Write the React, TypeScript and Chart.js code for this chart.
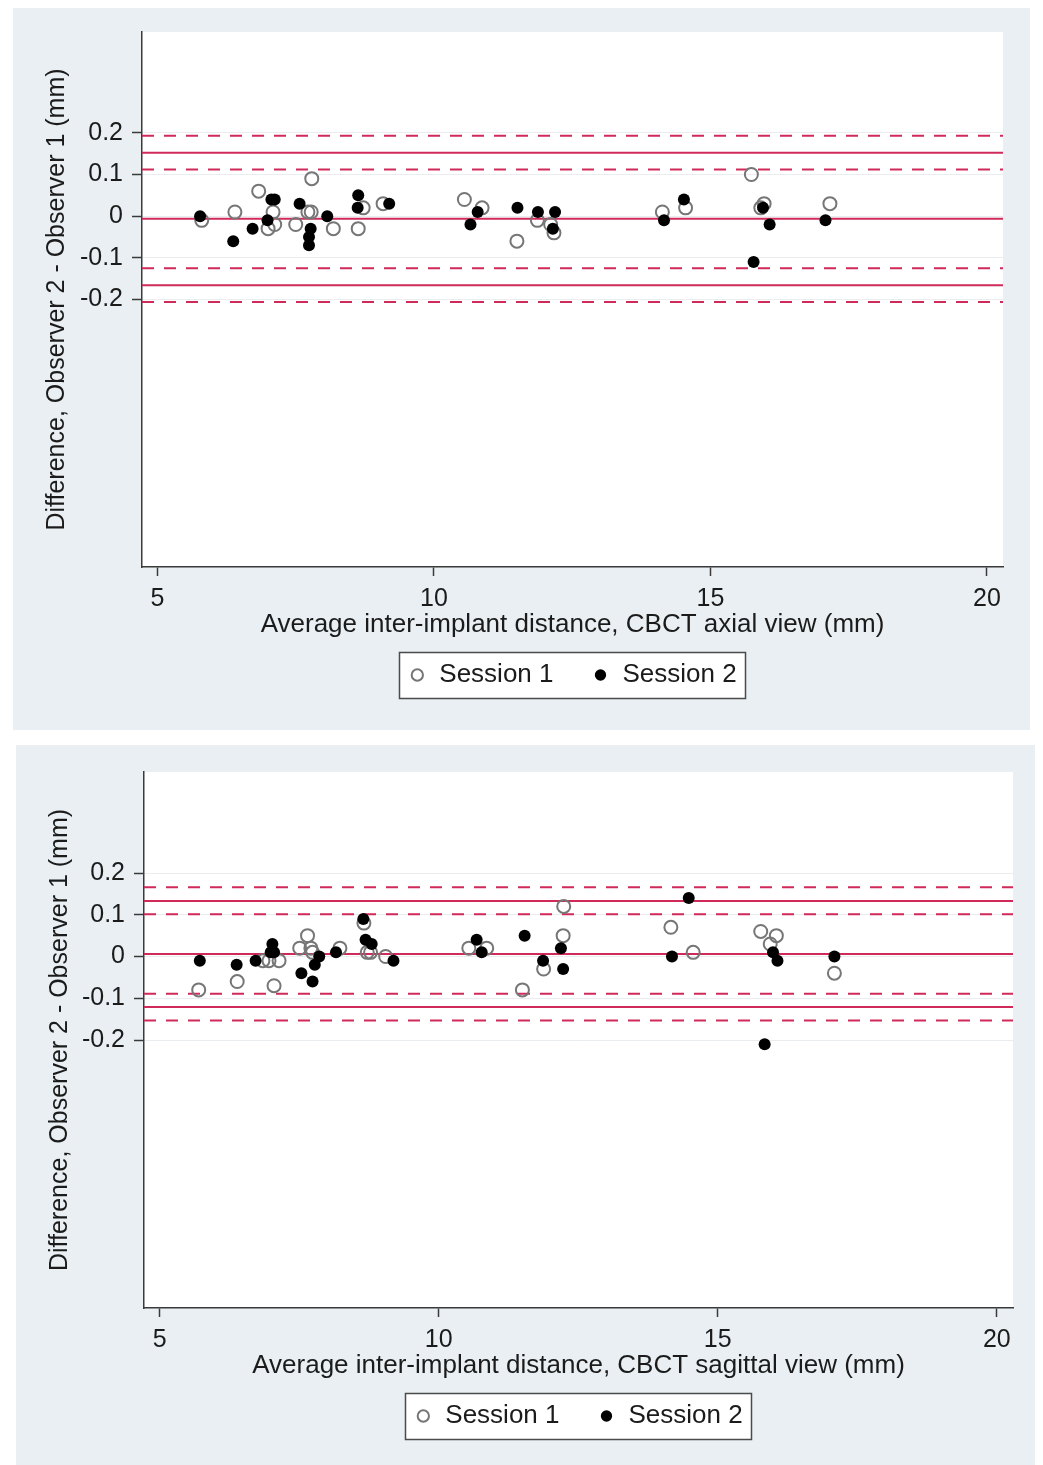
import React, { useEffect, useRef } from 'react';
import { Chart, registerables } from 'chart.js';

Chart.register(...registerables);

const FONT = "'Liberation Sans', Arial, sans-serif";
const TEXT = '#1b1b1b';
const AXIS = '#3a3a3a';
const GRID = '#e9edf0';
const PANEL_BG = '#e9eff2';
const LINE_RED = '#cf2a5a';
const OPEN_GRAY = '#767676';

const X_MIN = 4.72;
const X_MAX = 20.29;
const Y_MIN = -0.842;
const Y_MAX = 0.442;
const X_TICKS = [5, 10, 15, 20];
const Y_TICKS = [-0.2, -0.1, 0, 0.1, 0.2];
const Y_TICK_LABELS = ['-0.2', '-0.1', '0', '0.1', '0.2'];
const SERIES_NAMES = ['Session 1', 'Session 2'];
const Y_TITLE = 'Difference, Observer 2 - Observer 1 (mm)';
const AXIAL_X_TITLE = 'Average inter-implant distance, CBCT axial view (mm)';
const SAGITTAL_X_TITLE = 'Average inter-implant distance, CBCT sagittal view (mm)';

// ---- Axial view ----
const AXIAL_S1_X = [5.80, 6.40, 6.83, 7.09, 7.00, 7.12, 7.50, 7.79, 7.72, 7.78, 8.18, 8.63, 8.72, 9.08, 10.55, 10.87, 11.50, 11.87, 12.11, 12.17, 14.13, 14.55, 15.74, 15.97, 15.91, 17.16];
const AXIAL_S1_Y = [-0.01, 0.01, 0.06, 0.01, -0.03, -0.02, -0.02, 0.09, 0.01, 0.01, -0.03, -0.03, 0.02, 0.03, 0.04, 0.02, -0.06, -0.01, -0.02, -0.04, 0.01, 0.02, 0.10, 0.03, 0.02, 0.03];
const AXIAL_S2_X = [5.77, 6.37, 6.72, 6.99, 7.06, 7.12, 7.57, 7.77, 7.74, 7.74, 8.07, 8.63, 8.62, 9.19, 10.66, 10.79, 11.51, 11.88, 12.19, 12.15, 14.16, 14.52, 15.95, 16.07, 15.78, 17.08];
const AXIAL_S2_Y = [0.0, -0.06, -0.03, -0.01, 0.04, 0.04, 0.03, -0.03, -0.05, -0.07, 0.0, 0.05, 0.02, 0.03, -0.02, 0.01, 0.02, 0.01, 0.01, -0.03, -0.01, 0.04, 0.02, -0.02, -0.11, -0.01];
const AXIAL_SOLID = [0.152, -0.006, -0.166];
const AXIAL_DASHED = [0.193, 0.112, -0.125, -0.206];

// ---- Sagittal view ----
const SAG_S1_X = [5.70, 6.39, 7.05, 6.85, 6.96, 7.14, 7.51, 7.65, 7.71, 7.74, 8.23, 8.66, 8.72, 8.78, 9.05, 10.54, 10.86, 11.50, 11.88, 12.24, 12.23, 14.16, 14.56, 15.77, 16.05, 15.94, 17.09];
const SAG_S1_Y = [-0.08, -0.06, -0.07, -0.01, -0.01, -0.01, 0.02, 0.05, 0.02, 0.01, 0.02, 0.08, 0.01, 0.01, 0.0, 0.02, 0.02, -0.08, -0.03, 0.12, 0.05, 0.07, 0.01, 0.06, 0.05, 0.03, -0.04];
const SAG_S2_X = [5.72, 6.38, 6.72, 7.02, 6.99, 7.05, 7.54, 7.74, 7.78, 7.86, 8.16, 8.65, 8.69, 8.80, 9.19, 10.68, 10.77, 11.54, 11.87, 12.19, 12.23, 14.18, 14.48, 15.99, 16.07, 17.09, 15.84];
const SAG_S2_Y = [-0.01, -0.02, -0.01, 0.03, 0.01, 0.01, -0.04, -0.06, -0.02, 0.0, 0.01, 0.09, 0.04, 0.03, -0.01, 0.04, 0.01, 0.05, -0.01, 0.02, -0.03, 0.0, 0.14, 0.01, -0.01, 0.0, -0.21];
const SAG_SOLID = [0.133, 0.006, -0.121];
const SAG_DASHED = [0.166, 0.101, -0.089, -0.153];

function legendBox(chart: any) {
  const lg = chart.legend;
  if (!lg || !lg.legendHitBoxes || !lg.legendHitBoxes.length) return null;
  const pad = lg.options.labels.padding;
  const hb = lg.legendHitBoxes;
  const block = hb.reduce((s: number, h: any) => s + h.width, 0) + pad * (hb.length - 1);
  const start = (lg.left + lg.right) / 2 - block / 2;
  const cy = lg.top + pad + hb[0].height / 2;
  return { x: Math.round(start - 9) + 0.5, y: Math.round(cy - 23) + 0.5, w: Math.round(block + 18), h: 46 };
}

const panelPlugin = {
  id: 'panelPlugin',
  beforeDraw(chart: any) {
    const { ctx, chartArea: a, width, height } = chart;
    ctx.save();
    ctx.fillStyle = PANEL_BG;
    ctx.fillRect(0, 0, width, height);
    ctx.fillStyle = '#ffffff';
    ctx.fillRect(a.left, a.top, a.right - a.left, a.bottom - a.top);
    const b = legendBox(chart);
    if (b) ctx.fillRect(b.x, b.y, b.w, b.h);
    ctx.restore();
  },
  afterDraw(chart: any) {
    const b = legendBox(chart);
    if (!b) return;
    const { ctx } = chart;
    ctx.save();
    ctx.strokeStyle = '#4a4a4a';
    ctx.lineWidth = 1.5;
    ctx.strokeRect(b.x, b.y, b.w, b.h);
    ctx.restore();
  },
};

type Props = {
  width: number;
  height: number;
  xTitle: string;
  s1x: number[];
  s1y: number[];
  s2x: number[];
  s2y: number[];
  solid: number[];
  dashed: number[];
  pad: { top: number; right: number; bottom: number };
  yAxisWidth: number;
};

function BlandAltman(p: Props) {
  const ref = useRef<HTMLCanvasElement | null>(null);
  useEffect(() => {
    if (!ref.current) return;
    const hLine = (v: number, dashed: boolean) => ({
      type: 'line' as const,
      label: 'ref',
      data: [{ x: X_MIN, y: v }, { x: X_MAX, y: v }],
      borderColor: LINE_RED,
      borderWidth: 2,
      borderDash: dashed ? [12, 10] : [],
      pointRadius: 0,
      showLine: true,
      fill: false,
      order: 3,
    });
    const chart = new Chart(ref.current, {
      type: 'scatter',
      data: {
        datasets: [
          {
            label: SERIES_NAMES[0],
            data: p.s1x.map((x, i) => ({ x, y: p.s1y[i] })),
            pointStyle: 'circle',
            pointRadius: 6.5,
            pointBorderWidth: 2,
            pointBorderColor: OPEN_GRAY,
            pointBackgroundColor: 'rgba(255,255,255,0)',
            borderColor: OPEN_GRAY,
            backgroundColor: 'rgba(255,255,255,0)',
            borderWidth: 2,
            order: 2,
          } as any,
          {
            label: SERIES_NAMES[1],
            data: p.s2x.map((x, i) => ({ x, y: p.s2y[i] })),
            pointStyle: 'circle',
            pointRadius: 6,
            pointBorderWidth: 0,
            pointBackgroundColor: '#000000',
            pointBorderColor: '#000000',
            backgroundColor: '#000000',
            borderColor: '#000000',
            borderWidth: 0,
            order: 1,
          } as any,
          ...p.solid.map((v) => hLine(v, false)),
          ...p.dashed.map((v) => hLine(v, true)),
        ],
      },
      options: {
        responsive: false,
        animation: false,
        devicePixelRatio: 1,
        layout: { padding: { top: p.pad.top, right: p.pad.right, bottom: p.pad.bottom, left: 0 } },
        plugins: {
          tooltip: { enabled: false },
          legend: {
            position: 'bottom',
            fullSize: false,
            align: 'center',
            labels: {
              usePointStyle: true,
              boxWidth: 18,
              boxHeight: 8,
              padding: 38,
              color: TEXT,
              font: { family: FONT, size: 26 },
              filter: (item: any) => SERIES_NAMES.includes(item.text),
              sort: (a: any, b: any) => a.datasetIndex - b.datasetIndex,
            },
          },
        },
        scales: {
          x: {
            type: 'linear',
            min: X_MIN,
            max: X_MAX,
            afterBuildTicks: (s: any) => {
              s.ticks = X_TICKS.map((v) => ({ value: v }));
            },
            afterFit: (s: any) => {
              s.height = 57;
            },
            grid: { drawOnChartArea: false, drawTicks: true, tickLength: 9, tickColor: AXIS, tickWidth: 1.5 },
            border: { display: true, color: AXIS, width: 1.5 },
            ticks: {
              padding: 8,
              color: TEXT,
              font: { family: FONT, size: 25 },
              maxRotation: 0,
              autoSkip: false,
              callback: (v: any) => String(v),
            },
            title: {
              display: true,
              text: p.xTitle,
              color: TEXT,
              font: { family: FONT, size: 26 },
              padding: { top: 0, bottom: -16.5 },
            },
          },
          y: {
            type: 'linear',
            min: Y_MIN,
            max: Y_MAX,
            afterBuildTicks: (s: any) => {
              s.ticks = Y_TICKS.map((v) => ({ value: v }));
            },
            afterFit: (s: any) => {
              s.width = p.yAxisWidth;
            },
            grid: { color: GRID, lineWidth: 1, drawTicks: true, tickLength: 10, tickColor: AXIS, tickWidth: 1.5 },
            border: { display: true, color: AXIS, width: 1.5 },
            ticks: {
              padding: 9,
              color: TEXT,
              font: { family: FONT, size: 25 },
              autoSkip: false,
              callback: (_v: any, i: number) => Y_TICK_LABELS[i],
            },
            title: {
              display: true,
              text: Y_TITLE,
              color: TEXT,
              font: { family: FONT, size: 25 },
              padding: { top: 29, bottom: 0 },
            },
          },
        },
      } as any,
      plugins: [panelPlugin],
    });
    return () => chart.destroy();
  }, []);
  return (
    <canvas
      ref={ref}
      width={p.width}
      height={p.height}
      style={{ display: 'block', width: p.width + 'px', height: p.height + 'px' }}
    />
  );
}

export default function App() {
  return (
    <div>
      <div style={{ marginLeft: 5, width: 1017, height: 722 }}>
        <BlandAltman
          width={1017}
          height={722}
          xTitle={AXIAL_X_TITLE}
          s1x={AXIAL_S1_X}
          s1y={AXIAL_S1_Y}
          s2x={AXIAL_S2_X}
          s2y={AXIAL_S2_Y}
          solid={AXIAL_SOLID}
          dashed={AXIAL_DASHED}
          pad={{ top: 24, right: 27, bottom: 32 }}
          yAxisWidth={129}
        />
      </div>
      <div style={{ marginLeft: 8, marginTop: 15, width: 1024, height: 720 }}>
        <BlandAltman
          width={1024}
          height={720}
          xTitle={SAGITTAL_X_TITLE}
          s1x={SAG_S1_X}
          s1y={SAG_S1_Y}
          s2x={SAG_S2_X}
          s2y={SAG_S2_Y}
          solid={SAG_SOLID}
          dashed={SAG_DASHED}
          pad={{ top: 27, right: 27, bottom: 26 }}
          yAxisWidth={128}
        />
      </div>
    </div>
  );
}
